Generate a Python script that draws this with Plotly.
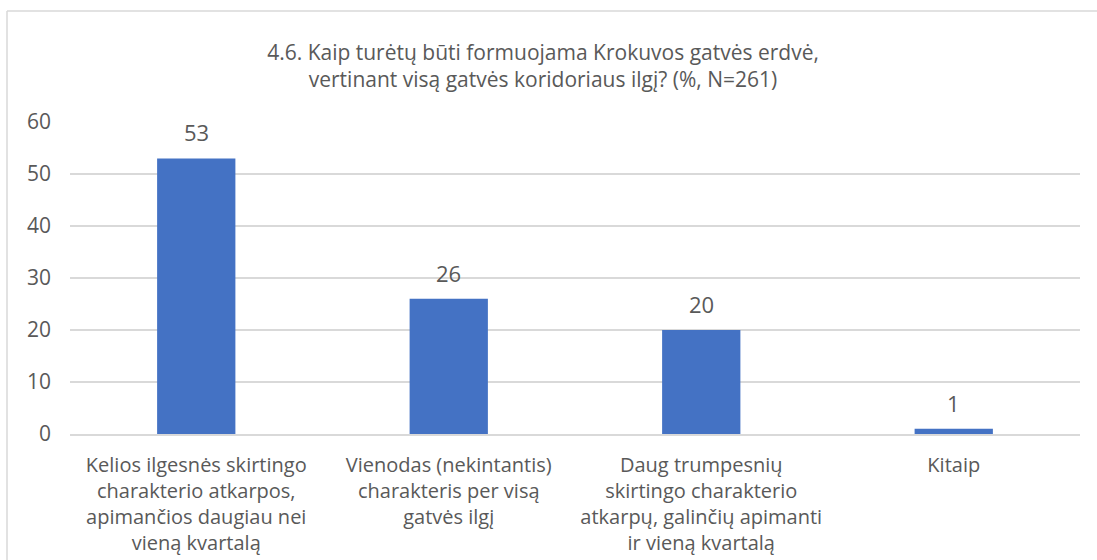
import plotly.graph_objects as go

categories = [
    "Kelios ilgesnės skirtingo<br>charakterio atkarpos,<br>apimančios daugiau nei<br>vieną kvartalą",
    "Vienodas (nekintantis)<br>charakteris per visą<br>gatvės ilgį",
    "Daug trumpesnių<br>skirtingo charakterio<br>atkarpų, galinčių apimanti<br>ir vieną kvartalą",
    "Kitaip",
]
values = [53, 26, 20, 1]
y_ticks = [0, 10, 20, 30, 40, 50, 60]
title_text = "4.6. Kaip turėtų būti formuojama Krokuvos gatvės erdvė,<br>vertinant visą gatvės koridoriaus ilgį? (%, N=261)"

FONT = "Open Sans"
TXT = "#595959"
WT = 500

fig = go.Figure()
fig.add_trace(go.Bar(
    x=categories, y=values,
    marker=dict(color="#4472C4", line=dict(width=0)),
    width=0.31,
    hoverinfo="skip",
))

for c, v in zip(categories, values):
    fig.add_annotation(x=c, y=v, text=str(v), showarrow=False,
                       yanchor="bottom", yshift=9,
                       font=dict(family=FONT, size=22, color=TXT, weight=WT))

L, R, T, B = 70, 17, 122, 126
W, H = 1097, 560
pw, ph = W - L - R, H - T - B

fig.add_shape(type="line", xref="paper", yref="paper",
              x0=(7 - L) / pw, x1=(W + 5 - L) / pw,
              y0=(H - B - 11) / ph, y1=(H - B - 11) / ph,
              line=dict(color="#D9D9D9", width=1.5))
fig.add_shape(type="line", xref="paper", yref="paper",
              x0=(7 - L) / pw, x1=(7 - L) / pw,
              y0=(H - B - 11) / ph, y1=(H - B - H - 5) / ph,
              line=dict(color="#D9D9D9", width=1.5))

fig.update_layout(
    width=W, height=H,
    margin=dict(l=L, r=R, t=T, b=B),
    paper_bgcolor="white", plot_bgcolor="white",
    showlegend=False,
    title=dict(text=title_text, x=543 / W, xanchor="center",
               y=1 - 60 / H, yanchor="middle",
               font=dict(family=FONT, size=21, color=TXT, weight=WT)),
    font=dict(family=FONT, color=TXT),
    bargap=0.69,
)
fig.update_yaxes(range=[0, 60], tickvals=y_ticks, showgrid=True,
                 gridcolor="#D9D9D9", gridwidth=1.5, zeroline=False,
                 showline=False, ticks="", ticklabelstandoff=18,
                 automargin=False,
                 tickfont=dict(family=FONT, size=21, color=TXT, weight=WT))
fig.update_xaxes(showline=True, linecolor="#D9D9D9", linewidth=1.5,
                 ticks="", ticklabelstandoff=12, automargin=False,
                 tickfont=dict(family=FONT, size=20, color=TXT, weight=WT))

fig.write_html("out.html", config={"displayModeBar": False},
               post_script="document.body.style.margin='0';")
